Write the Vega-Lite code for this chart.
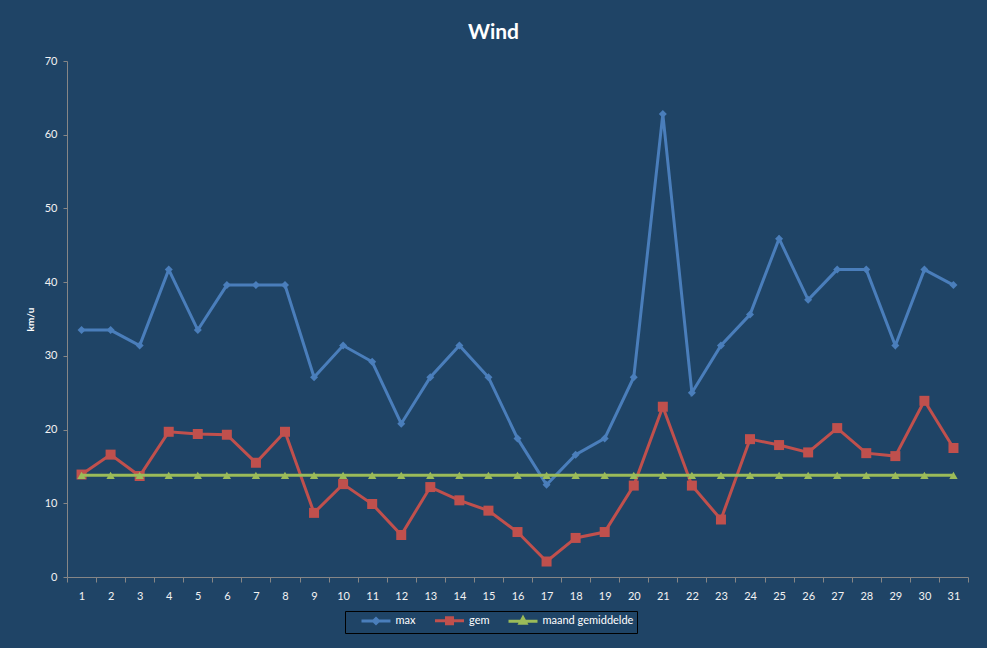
{
  "$schema": "https://vega.github.io/schema/vega-lite/v6.json",
  "width": 901,
  "height": 516,
  "autosize": {"type": "none"},
  "padding": {"left": 67, "top": 61, "right": 19, "bottom": 71},
  "background": "#1F4466",
  "title": {
    "text": "Wind",
    "anchor": "middle",
    "dx": -24,
    "offset": 12,
    "fontSize": 21,
    "font": "Lato",
    "fontWeight": "bold",
    "color": "#FFFFFF"
  },
  "data": {
    "values": [
      {"dag": 1, "max": 33.5, "gem": 13.9, "maand gemiddelde": 13.8},
      {"dag": 2, "max": 33.5, "gem": 16.6, "maand gemiddelde": 13.8},
      {"dag": 3, "max": 31.4, "gem": 13.7, "maand gemiddelde": 13.8},
      {"dag": 4, "max": 41.7, "gem": 19.7, "maand gemiddelde": 13.8},
      {"dag": 5, "max": 33.5, "gem": 19.4, "maand gemiddelde": 13.8},
      {"dag": 6, "max": 39.6, "gem": 19.3, "maand gemiddelde": 13.8},
      {"dag": 7, "max": 39.6, "gem": 15.5, "maand gemiddelde": 13.8},
      {"dag": 8, "max": 39.6, "gem": 19.7, "maand gemiddelde": 13.8},
      {"dag": 9, "max": 27.1, "gem": 8.7, "maand gemiddelde": 13.8},
      {"dag": 10, "max": 31.4, "gem": 12.6, "maand gemiddelde": 13.8},
      {"dag": 11, "max": 29.2, "gem": 9.9, "maand gemiddelde": 13.8},
      {"dag": 12, "max": 20.8, "gem": 5.7, "maand gemiddelde": 13.8},
      {"dag": 13, "max": 27.1, "gem": 12.2, "maand gemiddelde": 13.8},
      {"dag": 14, "max": 31.4, "gem": 10.4, "maand gemiddelde": 13.8},
      {"dag": 15, "max": 27.1, "gem": 9.0, "maand gemiddelde": 13.8},
      {"dag": 16, "max": 18.8, "gem": 6.1, "maand gemiddelde": 13.8},
      {"dag": 17, "max": 12.5, "gem": 2.1, "maand gemiddelde": 13.8},
      {"dag": 18, "max": 16.6, "gem": 5.3, "maand gemiddelde": 13.8},
      {"dag": 19, "max": 18.8, "gem": 6.1, "maand gemiddelde": 13.8},
      {"dag": 20, "max": 27.1, "gem": 12.4, "maand gemiddelde": 13.8},
      {"dag": 21, "max": 62.8, "gem": 23.1, "maand gemiddelde": 13.8},
      {"dag": 22, "max": 25.0, "gem": 12.4, "maand gemiddelde": 13.8},
      {"dag": 23, "max": 31.4, "gem": 7.8, "maand gemiddelde": 13.8},
      {"dag": 24, "max": 35.6, "gem": 18.7, "maand gemiddelde": 13.8},
      {"dag": 25, "max": 45.9, "gem": 17.9, "maand gemiddelde": 13.8},
      {"dag": 26, "max": 37.6, "gem": 16.9, "maand gemiddelde": 13.8},
      {"dag": 27, "max": 41.7, "gem": 20.2, "maand gemiddelde": 13.8},
      {"dag": 28, "max": 41.7, "gem": 16.8, "maand gemiddelde": 13.8},
      {"dag": 29, "max": 31.4, "gem": 16.4, "maand gemiddelde": 13.8},
      {"dag": 30, "max": 41.7, "gem": 23.9, "maand gemiddelde": 13.8},
      {"dag": 31, "max": 39.6, "gem": 17.5, "maand gemiddelde": 13.8}
    ]
  },
  "transform": [
    {"fold": ["max", "gem", "maand gemiddelde"], "as": ["serie", "waarde"]}
  ],
  "encoding": {
    "x": {
      "field": "dag",
      "type": "ordinal",
      "bandPosition": 0.5,
      "scale": {"type": "band", "paddingInner": 0, "paddingOuter": 0},
      "axis": {
        "title": null,
        "labelAngle": 0,
        "tickBand": "extent",
        "grid": false,
        "domainColor": "#868686",
        "tickColor": "#868686",
        "tickSize": 5,
        "labelColor": "#F2F2F2",
        "labelFontSize": 11,
        "labelPadding": 8
      }
    },
    "y": {
      "field": "waarde",
      "type": "quantitative",
      "scale": {"domain": [0, 70], "nice": false},
      "axis": {
        "title": "km/u",
        "values": [0, 10, 20, 30, 40, 50, 60, 70],
        "grid": false,
        "domainColor": "#868686",
        "tickColor": "#868686",
        "tickSize": 4,
        "labelColor": "#F2F2F2",
        "labelFontSize": 11,
        "labelPadding": 6,
        "titleColor": "#FFFFFF",
        "titleFontSize": 10,
        "titleFontWeight": "bold",
        "titlePadding": 9
      }
    },
    "color": {
      "field": "serie",
      "type": "nominal",
      "scale": {
        "domain": ["max", "gem", "maand gemiddelde"],
        "range": ["#4A7EBB", "#C0504D", "#9BBB59"]
      },
      "legend": {
        "title": null,
        "orient": "none",
        "legendX": 278,
        "legendY": 550,
        "direction": "horizontal",
        "strokeColor": "#000000",
        "padding": 3,
        "labelColor": "#FFFFFF",
        "labelFontSize": 11,
        "symbolSize": 100,
        "symbolOffset": 21.5,
        "labelOffset": 13,
        "columnPadding": 5.5,
        "symbolStrokeWidth": 3,
        "encode": {
          "symbols": {
            "update": {
              "shape": {"signal": "datum.value === 'max' ? 'M-2.9,0H2.9M0,-0.5L0.5,0L0,0.5L-0.5,0Z' : datum.value === 'gem' ? 'M-2.9,0H2.9M-0.6,-0.6H0.6V0.6H-0.6Z' : 'M-2.9,0H2.9M0,-0.7L0.6,0.4H-0.6Z'"},
              "fill": {"scale": "color", "field": "value"},
              "stroke": {"scale": "color", "field": "value"},
              "strokeWidth": {"value": 3}
            }
          }
        }
      }
    }
  },
  "layer": [
    {
      "transform": [{"filter": "datum.serie === 'max'"}],
      "mark": {"type": "line", "strokeWidth": 3}
    },
    {
      "transform": [{"filter": "datum.serie === 'max'"}],
      "mark": {"type": "point", "filled": true, "opacity": 1, "shape": "diamond", "size": 64}
    },
    {
      "transform": [{"filter": "datum.serie === 'gem'"}],
      "mark": {"type": "line", "strokeWidth": 3}
    },
    {
      "transform": [{"filter": "datum.serie === 'gem'"}],
      "mark": {"type": "point", "filled": true, "opacity": 1, "shape": "square", "size": 100}
    },
    {
      "transform": [{"filter": "datum.serie === 'maand gemiddelde'"}],
      "mark": {"type": "line", "strokeWidth": 3}
    },
    {
      "transform": [{"filter": "datum.serie === 'maand gemiddelde'"}],
      "mark": {"type": "point", "filled": true, "opacity": 1, "shape": "triangle-up", "size": 70}
    }
  ],
  "config": {
    "view": {"stroke": null},
    "font": "Lato"
  }
}
